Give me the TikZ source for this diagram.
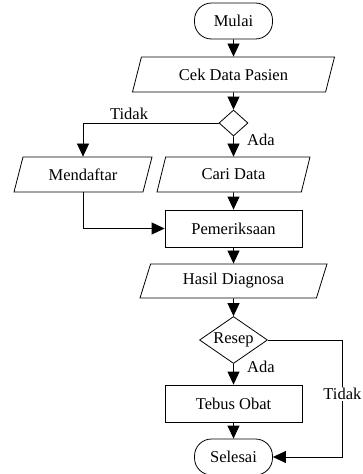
\documentclass[tikz,border=0pt]{standalone}
\usepackage{fontspec}
\setmainfont{Liberation Serif}
\usetikzlibrary{positioning, calc, shapes.geometric, arrows.meta}

\tikzset{
  terminal/.style={draw, rectangle, rounded corners=17pt, minimum width=78pt, minimum height=36pt},
  proses/.style={draw, rectangle, minimum width=137pt, minimum height=37pt},
  datain/.style={draw, trapezium, trapezium left angle=64, trapezium right angle=116,
                 trapezium stretches body, minimum height=35pt, inner xsep=0pt},
  pilih/.style={draw, diamond, inner sep=0pt},
  flow/.style={draw, -{Triangle[length=13pt,width=12pt]}},
}

\begin{document}
\begin{tikzpicture}[x=1pt, y=-1pt, line width=0.8pt,
    every node/.style={font=\fontsize{16.5}{19}\selectfont}]
  \useasboundingbox (0,0) rectangle (363,474);

  \node[terminal] (mulai) at (233.5,21) {Mulai};
  \node[datain, minimum width=202pt] (cek) at (233.5,74.5) {Cek Data Pasien};
  \node[pilih, minimum width=29pt, minimum height=26pt] (ada1) at (233.5,123) {};
  \node[datain, minimum width=138pt] (daftar) at (83,174.5) {Mendaftar};
  \node[datain, minimum width=153pt] (cari) at (233.5,174.5) {Cari Data};
  \node[proses] (periksa) at (233.5,228.5) {Pemeriksaan};
  \node[datain, minimum width=187pt, minimum height=34pt] (hasil) at (233.5,281) {Hasil Diagnosa};
  \node[pilih, aspect=1.45, minimum width=68pt, minimum height=47pt] (resep) at (233.5,340) {Resep};
  \node[proses] (tebus) at (233.5,403.5) {Tebus Obat};
  \node[terminal] (selesai) at (233.5,457) {Selesai};

  % alur utama
  \draw[flow] (mulai) -- (cek);
  \draw[flow] (cek) -- (ada1);
  \draw[flow] (ada1) -- node[pos=0.15, right=10pt] {Ada} (cari);
  \draw[flow] (ada1.west) -| node[pos=0.33, above] {Tidak} (daftar.north);
  \draw[flow] (cari) -- (periksa);
  \draw[flow] (daftar.south) |- (periksa.west);
  \draw[flow] (periksa) -- (hasil);
  \draw[flow] (hasil) -- (resep);
  \draw[flow] (resep) -- node[pos=0.15, right=10pt] {Ada} (tebus);
  \draw[flow] (tebus) -- (selesai);
  \draw[flow] (resep.east) -- ++(74.5,0) |- node[pos=0.23, fill=white, inner sep=1pt] {Tidak} (selesai.east);
\end{tikzpicture}
\end{document}
